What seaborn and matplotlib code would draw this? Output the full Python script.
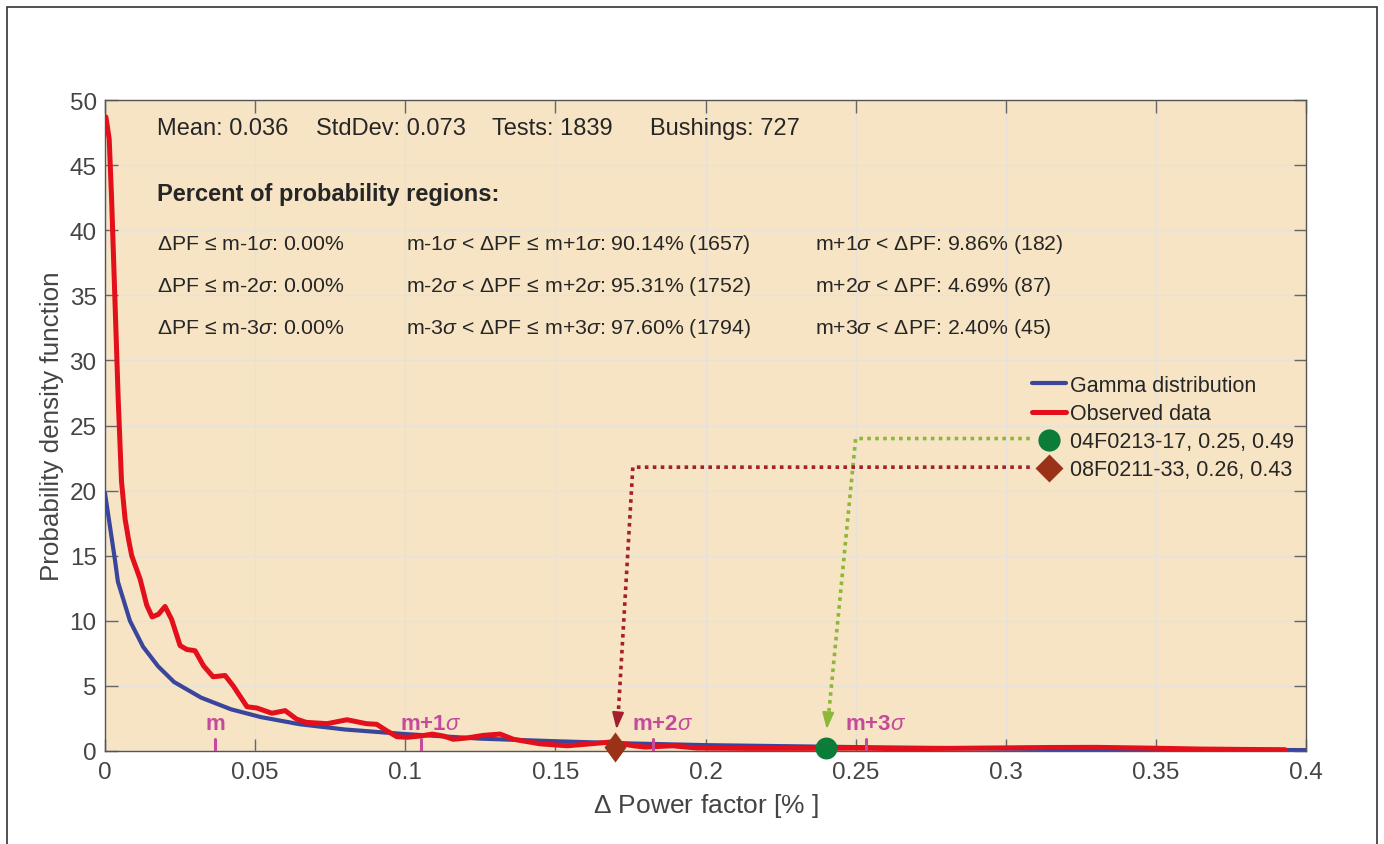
import numpy as np
import pandas as pd
import matplotlib
matplotlib.use('Agg')
import matplotlib.pyplot as plt
from matplotlib.lines import Line2D
from matplotlib.patches import Rectangle
import seaborn as sns

# values
gamma_x = [0, 0.0033, 0.0043, 0.0083, 0.0127, 0.0177, 0.023, 0.032, 0.042, 0.052,
           0.065, 0.08, 0.1, 0.125, 0.15, 0.175, 0.2, 0.25, 0.3, 0.35, 0.4]
gamma_y = [19.8, 14.7, 13.0, 10.0, 8.0, 6.5, 5.3, 4.1, 3.2, 2.6,
           2.05, 1.65, 1.3, 0.95, 0.75, 0.58, 0.45, 0.3, 0.18, 0.1, 0.07]

obs_x = [0.0003, 0.0014, 0.0022, 0.0033, 0.0044, 0.0055, 0.0067, 0.0078, 0.0089, 0.0117,
         0.0139, 0.0157, 0.0178, 0.02, 0.0222, 0.025, 0.0272, 0.030, 0.0328, 0.036,
         0.04, 0.0427, 0.0473, 0.0506, 0.0556, 0.06, 0.0638, 0.067, 0.074, 0.0806,
         0.087, 0.0905, 0.0938, 0.0972, 0.1006, 0.105, 0.109, 0.1127, 0.116, 0.1205,
         0.126, 0.1316, 0.136, 0.145, 0.154, 0.1616, 0.169, 0.176, 0.18, 0.189,
         0.197, 0.214, 0.232, 0.25, 0.265, 0.28, 0.3, 0.315, 0.33, 0.348,
         0.365, 0.38, 0.393]
obs_y = [48.7, 47.0, 42.4, 34.7, 27.0, 20.7, 17.8, 16.3, 15.0, 13.2,
         11.2, 10.3, 10.5, 11.1, 10.1, 8.1, 7.8, 7.7, 6.55, 5.7,
         5.8, 5.0, 3.4, 3.3, 2.9, 3.1, 2.45, 2.2, 2.1, 2.4,
         2.1, 2.05, 1.56, 1.1, 1.05, 1.15, 1.3, 1.15, 0.9, 1.0,
         1.2, 1.3, 0.9, 0.55, 0.4, 0.55, 0.7, 0.4, 0.3, 0.4,
         0.23, 0.2, 0.2, 0.22, 0.18, 0.2, 0.24, 0.27, 0.28, 0.22,
         0.15, 0.12, 0.1]

# highlighted tests
test_names = ['04F0213-17, 0.25, 0.49', '08F0211-33, 0.26, 0.43']
test_x = [0.24, 0.17]
test_y = [0.25, 0.3]
test_colors = ['#0b7d38', '#9a3218']
arrow_colors = ['#8cb83a', '#a31f2b']
arrow_level = [24.0, 21.8]
arrow_knee = [0.25, 0.1758]

# sigma marks
mark_labels = ['m', 'm+1$\\sigma$', 'm+2$\\sigma$', 'm+3$\\sigma$']
mark_x = [0.0366, 0.1054, 0.1826, 0.2534]

header = ['Mean: 0.036', 'StdDev: 0.073', 'Tests: 1839', 'Bushings: 727']
header_px = [157, 316, 492, 650]
col1 = ['ΔPF ≤ m-1$\\sigma$: 0.00%',
        'ΔPF ≤ m-2$\\sigma$: 0.00%',
        'ΔPF ≤ m-3$\\sigma$: 0.00%']
col2 = ['m-1$\\sigma$ < ΔPF ≤ m+1$\\sigma$: 90.14% (1657)',
        'm-2$\\sigma$ < ΔPF ≤ m+2$\\sigma$: 95.31% (1752)',
        'm-3$\\sigma$ < ΔPF ≤ m+3$\\sigma$: 97.60% (1794)']
col3 = ['m+1$\\sigma$ < ΔPF: 9.86% (182)',
        'm+2$\\sigma$ < ΔPF: 4.69% (87)',
        'm+3$\\sigma$ < ΔPF: 2.40% (45)']

sns.set_style('ticks')
plt.rcParams['font.family'] = ['Liberation Sans', 'DejaVu Sans']
plt.rcParams['mathtext.fontset'] = 'custom'
plt.rcParams['mathtext.rm'] = 'Liberation Sans'
plt.rcParams['mathtext.it'] = 'Liberation Sans:italic'

fig = plt.figure(figsize=(13.84, 8.45), dpi=100)
ax = fig.add_axes([105/1384, 1-752/845, 1201/1384, 651/845])
ax.set_facecolor('#f6e4c5')

gdf = pd.DataFrame({'x': gamma_x, 'y': gamma_y})
odf = pd.DataFrame({'x': obs_x, 'y': obs_y})
sns.lineplot(data=gdf, x='x', y='y', ax=ax, color='#3a469c', lw=3, zorder=3,
             solid_joinstyle='round')
sns.lineplot(data=odf, x='x', y='y', ax=ax, color='#e30f1a', lw=3.6, zorder=4,
             solid_joinstyle='round', solid_capstyle='round')

ax.set_xlim(0, 0.4)
ax.set_ylim(0, 50)
ax.set_xticks(np.arange(0, 0.401, 0.05))
ax.set_xticklabels(['0', '0.05', '0.1', '0.15', '0.2', '0.25', '0.3', '0.35', '0.4'])
ax.set_yticks(np.arange(0, 51, 5))
ax.grid(True, color='#e6e2da', lw=1)
ax.set_axisbelow(True)
ax.tick_params(direction='in', length=9, width=1, colors='#666666', labelsize=17.5,
               top=True, right=True, labelcolor='#444444')
ax.tick_params(axis='x', pad=7)
ax.tick_params(axis='y', pad=6)
for s in ax.spines.values():
    s.set_color('#555555')
    s.set_linewidth(1)
ax.set_xlabel('$\\Delta$ Power factor [% ]', fontsize=19, color='#444444', labelpad=6)
ax.set_ylabel('Probability density function', fontsize=18.7, color='#444444', labelpad=4)

# dotted arrows from legend to the points
for i in range(2):
    ax.plot([0.308, arrow_knee[i], test_x[i] + 0.0008], [arrow_level[i], arrow_level[i], 2.3],
            ls=(0, (1, 1.2)), lw=2.6, color=arrow_colors[i], zorder=5)
    ax.annotate('', xy=(test_x[i] + 0.0003, 1.45), xytext=(test_x[i] + 0.0007, 2.5),
                arrowprops=dict(arrowstyle='-|>,head_width=0.35,head_length=1.0',
                                color=arrow_colors[i], lw=1.5), zorder=5)

tall_diamond = [(0, 1), (0.73, 0), (0, -1), (-0.73, 0), (0, 1)]
ax.scatter(test_x[0], test_y[0], s=250, marker='o', color=test_colors[0], zorder=6,
           linewidths=0, clip_on=False)
ax.scatter(test_x[1], test_y[1], s=470, marker=tall_diamond, color=test_colors[1], zorder=6,
           linewidths=0, clip_on=False)

# sigma marks
for i in range(4):
    ax.plot([mark_x[i], mark_x[i]], [0, 0.9], color='#c44a9c', lw=2.2, zorder=5)
    if i == 0:
        ax.text(mark_x[i], 1.3, mark_labels[i], color='#c44a9c', fontsize=16,
                fontweight='bold', ha='center', va='bottom')
    else:
        ax.text(mark_x[i] - 0.007, 1.3, mark_labels[i], color='#c44a9c', fontsize=16,
                fontweight='bold', ha='left', va='bottom')

# text block
for h, px in zip(header, header_px):
    ax.text((px-105)/1201, (752-129)/651, h, transform=ax.transAxes, fontsize=17, va='center')
ax.text((157-105)/1201, (752-195)/651, 'Percent of probability regions:', transform=ax.transAxes,
        fontsize=17, fontweight='bold', va='center')
rows_y = [244, 286, 329]
for j in range(3):
    yy = (752-rows_y[j])/651
    ax.text((157-105)/1201, yy, col1[j], transform=ax.transAxes, fontsize=15.3, va='center')
    ax.text((406-105)/1201, yy, col2[j], transform=ax.transAxes, fontsize=15.3, va='center')
    ax.text((815-105)/1201, yy, col3[j], transform=ax.transAxes, fontsize=15.3, va='center')

handles = [Line2D([], [], color='#3a469c', lw=3),
           Line2D([], [], color='#e30f1a', lw=3.6),
           Line2D([], [], ls='none', marker='o', ms=16, color=test_colors[0], mec='none'),
           Line2D([], [], ls='none', marker='D', ms=14, color=test_colors[1], mec='none')]
labels = ['Gamma distribution', 'Observed data'] + test_names
ax.legend(handles, labels, loc='upper left', bbox_to_anchor=((1032-105)/1201, (752-376)/651),
          frameon=False, fontsize=15.5, handlelength=1.6, handletextpad=0.15,
          labelspacing=0.33, borderpad=0, borderaxespad=0)

fig.patches.append(Rectangle((7/1384, -0.01), 1370/1384, 1.01-8/845, transform=fig.transFigure,
                             fill=False, edgecolor='#333333', lw=1.2))

fig.savefig('out.png', dpi=100)
